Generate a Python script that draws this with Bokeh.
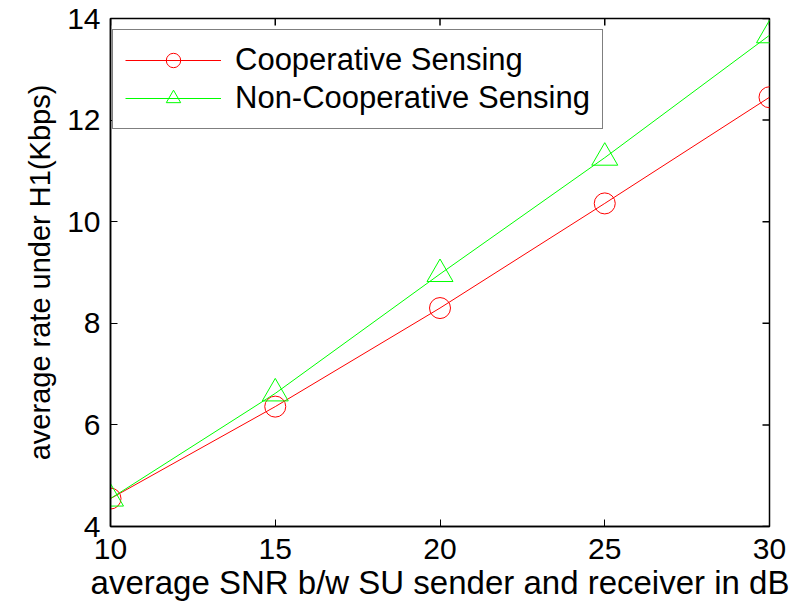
import math
from bokeh.plotting import figure
from bokeh.models import Range1d, Legend, LegendItem, FixedTicker
from bokeh.embed import file_html
from bokeh.resources import INLINE

snr = [10, 15, 20, 25, 30]
coop = [4.55, 6.36, 8.30, 10.36, 12.45]
noncoop = [4.55, 6.62, 8.97, 11.26, 13.67]
x_ticks = [10, 15, 20, 25, 30]
y_ticks = [4, 6, 8, 10, 12, 14]
x_min, x_max = 10, 30
y_min, y_max = 4, 14

FONT = "Liberation Sans"

p = figure(width=790, height=610, output_backend="svg", toolbar_location=None,
           x_range=Range1d(x_min, x_max), y_range=Range1d(y_min, y_max),
           min_border_left=110, min_border_right=21, min_border_top=18, min_border_bottom=84)
p.background_fill_color = "white"
p.border_fill_color = "white"
p.outline_line_color = "black"
p.outline_line_width = 1.5
p.xgrid.visible = False
p.ygrid.visible = False

for ax, ticks in ((p.xaxis[0], x_ticks), (p.yaxis[0], y_ticks)):
    ax.ticker = FixedTicker(ticks=ticks)
    ax.major_tick_in = 7
    ax.major_tick_out = 0
    ax.minor_tick_line_color = None
    ax.axis_line_color = "black"
    ax.axis_line_width = 1.5
    ax.major_tick_line_color = "black"
    ax.major_label_text_font = FONT
    ax.major_label_text_font_size = "30px"
    ax.major_label_text_color = "black"
    ax.axis_label_text_font = FONT
    ax.axis_label_text_font_style = "normal"
    ax.axis_label_text_color = "black"

p.xaxis.axis_label = "average SNR b/w SU sender and receiver in dB"
p.xaxis.axis_label_text_font_size = "33px"
p.xaxis.major_label_standoff = 12
p.xaxis.axis_label_standoff = 2
p.yaxis.axis_label = "average rate under H1(Kbps)"
p.yaxis.axis_label_text_font_size = "29px"
p.yaxis.major_label_standoff = 10
p.yaxis.axis_label_standoff = 8

# mirrored inward ticks on top and right edges
p.ray(x=x_ticks, y=[y_max] * len(x_ticks), length=7, length_units="screen",
      angle=-math.pi / 2, line_color="black", line_width=1.5)
p.ray(x=[x_max] * len(y_ticks), y=y_ticks, length=7, length_units="screen",
      angle=math.pi, line_color="black", line_width=1.5)

l1 = p.line(snr, coop, line_color="#ff0000", line_width=1)
m1 = p.scatter(snr, coop, marker="circle", size=21, fill_color=None, line_color="#ff0000", line_width=1)
l2 = p.line(snr, noncoop, line_color="#00ff00", line_width=1)
m2 = p.scatter(snr, noncoop, marker="triangle", size=26, fill_color=None, line_color="#00ff00", line_width=1)

legend = Legend(items=[LegendItem(label="Cooperative Sensing", renderers=[l1, m1]),
                       LegendItem(label="Non-Cooperative Sensing", renderers=[l2, m2])],
                location=(2, 397))
legend.label_text_font = FONT
legend.label_text_font_size = "31px"
legend.label_text_color = "black"
legend.glyph_width = 96
legend.glyph_height = 36
legend.label_height = 36
legend.label_standoff = 14
legend.spacing = 2
legend.padding = 12
legend.margin = 0
legend.border_line_color = "black"
legend.border_line_width = 1.5
legend.background_fill_alpha = 1
p.add_layout(legend, "center")

open("out.html", "w").write(file_html(p, INLINE))
